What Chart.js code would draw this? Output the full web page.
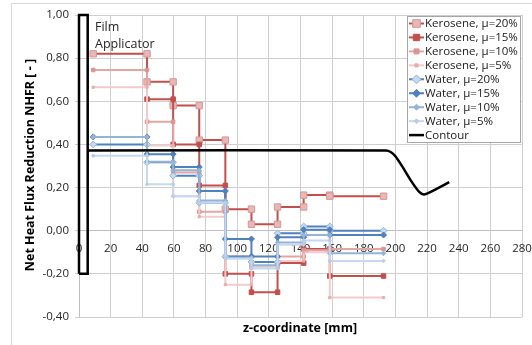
<!DOCTYPE html>
<html>
<head>
<meta charset="utf-8">
<script src="https://cdn.jsdelivr.net/npm/chart.js@4"></script>
<style>
  html, body { margin: 0; padding: 0; background: #fff; }
</style>
</head>
<body>
<canvas id="chart" width="532" height="345"></canvas>
<script>
// step edges along z [mm]
const zEdges = [9, 43, 59.5, 76, 92.5, 109, 125.5, 142, 158.5, 192.5];

// NHFR level in each z interval (null = no value)
const kero20 = [0.82, 0.69, 0.58, 0.42, 0.10, 0.03, 0.11, 0.165, 0.16];
const kero15 = [null, 0.61, 0.40, 0.21, -0.20, -0.285, -0.15, -0.085, -0.21];
const kero10 = [0.745, 0.505, 0.27, 0.088, -0.12, -0.17, -0.12, -0.09, -0.085];
const kero5 = [0.665, 0.395, 0.16, 0.065, -0.25, -0.17, -0.14, -0.10, -0.31];
const water20 = [0.40, 0.317, 0.255, 0.13, -0.12, -0.145, -0.012, 0.02, 0.0];
const water15 = [0.435, 0.355, 0.295, 0.184, -0.038, -0.12, -0.03, 0.005, -0.02];
const water10 = [0.435, 0.32, 0.28, 0.14, -0.125, -0.16, -0.055, -0.02, -0.105];
const water5 = [0.348, 0.215, 0.16, 0.13, -0.13, -0.175, -0.065, -0.045, -0.14];

const contourZ = [5.5, 194, 197, 200, 205, 210, 215, 218, 221, 234];
const contourY = [0.372, 0.372, 0.365, 0.345, 0.29, 0.23, 0.18, 0.168, 0.175, 0.225];

const applicatorZ = [0, 0, 5.5, 5.5, 0];
const applicatorY = [-0.2, 1.0, 1.0, -0.2, -0.2];

const seriesNames = [
  "Kerosene, μ=20%", "Kerosene, μ=15%", "Kerosene, μ=10%", "Kerosene, μ=5%",
  "Water, μ=20%", "Water, μ=15%", "Water, μ=10%", "Water, μ=5%", "Contour"
];

const xTicks = [0, 20, 40, 60, 80, 100, 120, 140, 160, 180, 200, 220, 240, 260, 280];
const yTicks = [-0.4, -0.2, 0, 0.2, 0.4, 0.6, 0.8, 1.0];

function steps(levels) {
  const pts = [];
  levels.forEach((v, i) => {
    if (v === null) return;
    pts.push({ x: zEdges[i], y: v }, { x: zEdges[i + 1], y: v });
  });
  return pts;
}
function pairs(xs, ys) {
  return xs.map((x, i) => ({ x: x, y: ys[i] }));
}

const styles = [
  { line: "#c0504d", fill: "#e6b9b8", edge: "#d99694", shape: "rect", r: 4.5 },
  { line: "#c0504d", fill: "#c0504d", edge: "#c0504d", shape: "rect", r: 3.2 },
  { line: "#e3a6a4", fill: "#da9694", edge: "#da9694", shape: "rect", r: 2.5 },
  { line: "#f2cccb", fill: "#e6b0af", edge: "#e6b0af", shape: "rect", r: 1.6 },
  { line: "#4f81bd", fill: "#c6d9f1", edge: "#95b3d7", shape: "rectRot", r: 3.4 },
  { line: "#4f81bd", fill: "#4f81bd", edge: "#4f81bd", shape: "rectRot", r: 3 },
  { line: "#95b3d7", fill: "#95b3d7", edge: "#95b3d7", shape: "rectRot", r: 2.3 },
  { line: "#c6d9f1", fill: "#b9cde5", edge: "#b9cde5", shape: "rectRot", r: 1.8 },
  { line: "#000000", fill: "#000", edge: "#000", shape: "none", r: 0 }
];

const levelSets = [kero20, kero15, kero10, kero5, water20, water15, water10, water5];

const datasets = levelSets.map((lv, i) => ({
  label: seriesNames[i],
  data: steps(lv),
  showLine: true,
  borderColor: styles[i].line,
  borderWidth: 2,
  pointStyle: styles[i].shape,
  pointRadius: styles[i].r,
  pointBackgroundColor: styles[i].fill,
  pointBorderColor: styles[i].edge,
  pointBorderWidth: 1,
  order: 20 - i
}));

datasets.push({
  label: seriesNames[8],
  data: pairs(contourZ, contourY),
  showLine: true,
  borderColor: "#000",
  borderWidth: 2.5,
  pointRadius: 0,
  tension: 0.2,
  order: 1
});
datasets.push({
  label: "applicator",
  data: pairs(applicatorZ, applicatorY),
  showLine: true,
  borderColor: "#000",
  borderWidth: 2.5,
  pointRadius: 0,
  clip: false,
  order: 0
});

function markPath(ctx, shape, x, y, r) {
  ctx.beginPath();
  if (shape === "rect") {
    ctx.rect(x - r, y - r, 2 * r, 2 * r);
  } else if (shape === "rectRot") {
    ctx.moveTo(x, y - r * 1.3);
    ctx.lineTo(x + r * 1.3, y);
    ctx.lineTo(x, y + r * 1.3);
    ctx.lineTo(x - r * 1.3, y);
    ctx.closePath();
  }
}

const decor = {
  id: "decor",
  beforeDraw(chart) {
    const ctx = chart.ctx;
    ctx.save();
    ctx.strokeStyle = "#d9d9d9";
    ctx.lineWidth = 1;
    ctx.strokeRect(11.5, 3.5, 540, 400);
    ctx.restore();
  },
  afterDraw(chart) {
    const ctx = chart.ctx;
    ctx.save();
    // axis titles
    ctx.fillStyle = "#000";
    ctx.font = "bold 12.5px 'Open Sans'";
    ctx.textAlign = "center";
    ctx.textBaseline = "middle";
    ctx.fillText("z-coordinate [mm]", 300, 328);
    ctx.translate(30, 165);
    ctx.rotate(-Math.PI / 2);
    ctx.fillText("Net Heat Flux Reduction NHFR [ - ]", 0, 0);
    ctx.restore();

    // annotation
    ctx.save();
    ctx.fillStyle = "#262626";
    ctx.font = "12.5px 'Open Sans'";
    ctx.textAlign = "left";
    ctx.textBaseline = "middle";
    ctx.fillText("Film", 95, 27);
    ctx.fillText("Applicator", 95, 44);
    ctx.restore();

    // legend box
    ctx.save();
    const bx = 407.5, by = 16.5, bw = 113, bh = 126;
    ctx.fillStyle = "#fff";
    ctx.fillRect(bx, by, bw, bh);
    ctx.strokeStyle = "#a6a6a6";
    ctx.lineWidth = 1;
    ctx.strokeRect(bx, by, bw, bh);
    ctx.font = "11.5px 'Open Sans'";
    ctx.textBaseline = "middle";
    ctx.textAlign = "left";
    seriesNames.forEach((name, i) => {
      const yc = 23.5 + i * 13.95;
      const st = styles[i];
      ctx.strokeStyle = st.line;
      ctx.lineWidth = i === 8 ? 2.5 : 2;
      ctx.beginPath();
      ctx.moveTo(409, yc);
      ctx.lineTo(424, yc);
      ctx.stroke();
      if (st.shape !== "none") {
        markPath(ctx, st.shape, 416.5, yc, Math.min(st.r, 3.8));
        ctx.fillStyle = st.fill;
        ctx.fill();
        ctx.strokeStyle = st.edge;
        ctx.lineWidth = 1;
        ctx.stroke();
      }
      ctx.fillStyle = "#1a1a1a";
      ctx.fillText(name, 425, yc + 0.5);
    });
    ctx.restore();
  }
};

function comma(v) {
  if (Math.abs(v) < 1e-9) return "0,00";
  return v.toFixed(2).replace(".", ",");
}

new Chart(document.getElementById("chart"), {
  type: "scatter",
  data: { datasets: datasets },
  options: {
    responsive: false,
    animation: false,
    devicePixelRatio: 1,
    layout: { padding: { left: 20, right: 10, top: 15, bottom: 28 } },
    plugins: { legend: { display: false }, tooltip: { enabled: false } },
    scales: {
      x: {
        type: "linear",
        position: { y: 0 },
        min: xTicks[0],
        max: xTicks[xTicks.length - 1],
        afterBuildTicks: s => { s.ticks = xTicks.map(v => ({ value: v })); },
        afterFit: s => { s.paddingLeft = 0; s.paddingRight = 0; },
        ticks: { font: { family: "Open Sans", size: 11.5 }, color: "#262626", padding: 7, maxRotation: 0, autoSkip: false },
        grid: { color: "#cfcfcf", tickLength: 4, lineWidth: 1 },
        border: { color: "#bfbfbf" }
      },
      y: {
        type: "linear",
        min: yTicks[0],
        max: yTicks[yTicks.length - 1],
        afterBuildTicks: s => { s.ticks = yTicks.map(v => ({ value: v })); },
        afterFit: s => { s.width = 59; s.paddingTop = 0; s.paddingBottom = 0; },
        ticks: { font: { family: "Open Sans", size: 11.5 }, color: "#262626", padding: 6, callback: v => comma(v) },
        grid: { color: "#cfcfcf", tickLength: 4 },
        border: { color: "#bfbfbf" }
      }
    }
  },
  plugins: [decor]
});
</script>
</body>
</html>
